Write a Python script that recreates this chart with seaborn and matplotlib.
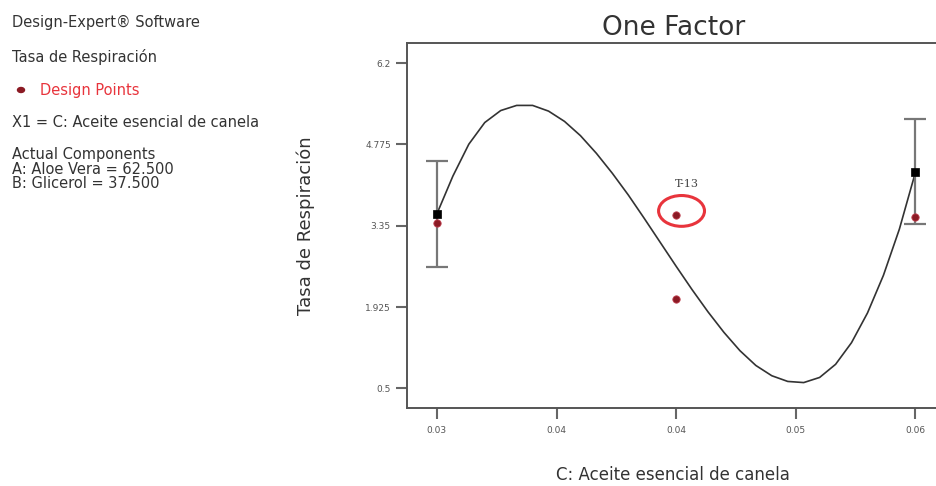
import numpy as np
import pandas as pd
import matplotlib
matplotlib.use('Agg')
import matplotlib.pyplot as plt
from matplotlib.patches import Ellipse
import seaborn as sns

# ------------------------------------------------------------------------------------
# data
curve_x = [0.030, 0.031, 0.032, 0.033, 0.034, 0.035, 0.036, 0.037, 0.038, 0.039,
           0.040, 0.041, 0.042, 0.043, 0.044, 0.045, 0.046, 0.047, 0.048, 0.049,
           0.050, 0.051, 0.052, 0.053, 0.054, 0.055, 0.056, 0.057, 0.058, 0.059, 0.060]
curve_y = [3.56, 4.22, 4.78, 5.16, 5.37, 5.46, 5.46, 5.36, 5.18, 4.93,
           4.62, 4.27, 3.89, 3.48, 3.06, 2.64, 2.23, 1.84, 1.48, 1.16,
           0.90, 0.72, 0.62, 0.60, 0.69, 0.92, 1.30, 1.82, 2.48, 3.29, 4.28]

design_x = [0.030, 0.045, 0.045, 0.060]
design_y = [3.40, 3.53, 2.06, 3.50]

pred_x = [0.030, 0.060]
pred_y = [3.56, 4.30]
pred_err = [0.925, 0.92]

xtick_pos = [0.03, 0.0375, 0.045, 0.0525, 0.06]
xtick_lab = ['0.03', '0.04', '0.04', '0.05', '0.06']
ytick_pos = [0.5, 1.925, 3.35, 4.775, 6.2]
ytick_lab = ['0.5', '1.925', '3.35', '4.775', '6.2']

side_lines = ['Design-Expert® Software', 'Tasa de Respiración', 'Design Points',
              'X1 = C: Aceite esencial de canela']
components = ['Actual Components', 'A: Aloe Vera = 62.500', 'B: Glicerol = 37.500']

# ------------------------------------------------------------------------------------
sns.set_theme(style='white')
plt.rcParams['font.family'] = ['DejaVu Sans']

curve_df = pd.DataFrame({'x': curve_x, 'y': curve_y})
design_df = pd.DataFrame({'x': design_x, 'y': design_y})
pred_df = pd.DataFrame({'x': pred_x, 'y': pred_y})

fig = plt.figure(figsize=(9.36, 4.86), dpi=100)
ax = fig.add_axes([0.4346, 0.16, 0.5697, 0.751])

sns.lineplot(data=curve_df, x='x', y='y', ax=ax, color='#333333', linewidth=1.2)
ax.errorbar(pred_x, pred_y, yerr=pred_err, fmt='none', ecolor='#777777',
            elinewidth=1.6, capsize=8, capthick=1.6, zorder=2)
sns.scatterplot(data=design_df, x='x', y='y', ax=ax, color='#8b1a24', s=28,
                edgecolor='#c04050', linewidth=0.6, zorder=4)
sns.scatterplot(data=pred_df, x='x', y='y', ax=ax, color='black', marker='s', s=40,
                edgecolor='black', zorder=5)

# highlighted run
ax.add_patch(Ellipse((0.04534, 3.61), 0.00288, 0.54, fill=False,
                     edgecolor='#e8343c', linewidth=2.2, zorder=6))
ax.text(0.04565, 4.08, 'T-13', fontsize=8, color='#444444', ha='center', va='center',
        family='DejaVu Serif')

ax.set_xlim(0.02811, 0.06155)
ax.set_ylim(0.15, 6.55)
ax.set_xticks(xtick_pos)
ax.set_xticklabels(xtick_lab)
ax.set_yticks(ytick_pos)
ax.set_yticklabels(ytick_lab)
ax.tick_params(axis='both', direction='out', length=8, width=1.5, color='#666666',
               labelsize=6.5, labelcolor='#555555', left=True, bottom=True)
ax.tick_params(axis='x', pad=5)
for s in ['left', 'bottom', 'top', 'right']:
    ax.spines[s].set_color('#555555')
    ax.spines[s].set_linewidth(1.4)

ax.set_title('One Factor', fontsize=19, color='#333333', pad=6)
ax.set_xlabel('C: Aceite esencial de canela', fontsize=12, color='#333333', labelpad=22)
ax.set_ylabel('Tasa de Respiración', fontsize=13, color='#333333', labelpad=36,
              family=['Liberation Sans Narrow', 'DejaVu Sans'])

# left info panel
fs = 10.5
fig.text(12 / 936, 1 - 22 / 486, side_lines[0], fontsize=fs, color='#333333', va='center')
fig.text(12 / 936, 1 - 57 / 486, side_lines[1], fontsize=fs, color='#333333', va='center')
fig.text(40 / 936, 1 - 90 / 486, side_lines[2], fontsize=fs, color='#e8343c', va='center')
fig.patches.append(Ellipse((21 / 936, 1 - 90 / 486), 7 / 936, 5 / 486,
                           transform=fig.transFigure, color='#8b1a24'))
fig.text(12 / 936, 1 - 122 / 486, side_lines[3], fontsize=fs, color='#333333', va='center')
for i, line in enumerate(components):
    fig.text(12 / 936, 1 - (155 + 14 * i) / 486, line, fontsize=fs, color='#333333',
             va='center')

fig.savefig('out.png', dpi=100)
